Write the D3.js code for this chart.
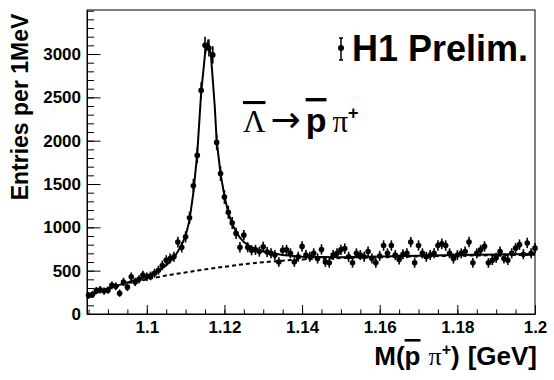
<!DOCTYPE html>
<html>
<head>
<meta charset="utf-8">
<script src="https://cdn.jsdelivr.net/npm/d3@7/dist/d3.min.js"></script>
<style>
  body { margin: 0; background: #fff; }
  text { font-family: "Liberation Sans", Arial, sans-serif; font-weight: bold; fill: #000; }
  .serif { font-family: "Liberation Serif", "Times New Roman", serif; font-weight: normal; }
</style>
</head>
<body>
<div id="chart"></div>
<script>
// histogram: 1 MeV bins, first bin centre 1.085 GeV
const firstBin = 1.085;
const binWidth = 0.001;
const entries = [
  215, 225, 270, 280, 265, 275, 330, 320, 240, 370,
  310, 430, 370, 400, 450, 430, 440, 470, 505, 560,
  620, 640, 660, 830, 770, 890, 1110, 1480, 1830, 2580,
  3100, 3070, 2990, 1980, 1620, 1350, 1175, 1050, 930, 770,
  910, 770, 735, 740, 720, 775, 715, 700, 680, 600,
  735, 740, 700, 600, 660, 780, 680, 660, 700, 640,
  745, 600, 590, 680, 700, 740, 755, 660, 590, 700,
  680, 660, 720, 640, 590, 670, 790, 700, 790, 680,
  630, 690, 700, 830, 590, 790, 700, 660, 680, 700,
  790, 810, 790, 700, 640, 680, 700, 720, 830, 590,
  700, 740, 780, 590, 620, 650, 720, 640, 620, 700,
  760, 800, 690, 820, 700, 760
];
const errors = [
  40, 40, 42, 42, 42, 42, 45, 45, 42, 48,
  45, 50, 48, 48, 50, 50, 50, 52, 52, 55,
  58, 58, 58, 62, 60, 65, 70, 80, 90, 95,
  100, 100, 100, 90, 85, 80, 75, 70, 65, 60,
  60, 58, 58, 58, 58, 60, 58, 58, 58, 56,
  58, 58, 58, 56, 58, 60, 58, 58, 58, 58,
  60, 56, 56, 58, 58, 60, 60, 58, 56, 58,
  58, 58, 58, 58, 56, 58, 60, 58, 60, 58,
  58, 58, 58, 60, 56, 60, 58, 58, 58, 58,
  60, 60, 60, 58, 58, 58, 58, 58, 60, 56,
  58, 58, 60, 56, 56, 58, 58, 58, 56, 58,
  58, 60, 58, 60, 58, 58
];

// fitted curves
const fitMass = [1.085, 1.09, 1.095, 1.1, 1.103, 1.105, 1.107, 1.108, 1.109, 1.11, 1.111, 1.112, 1.113, 1.114,
  1.115, 1.1157, 1.1165, 1.1175, 1.118, 1.119, 1.12, 1.121, 1.122, 1.123, 1.124, 1.125, 1.127, 1.13,
  1.135, 1.14, 1.15, 1.16, 1.17, 1.18, 1.19, 1.2];
const fitEntries = [210, 295, 365, 435, 500, 560, 650, 720, 800, 900, 1080, 1400, 1850, 2550,
  3000, 3130, 3000, 2400, 2000, 1620, 1360, 1170, 1040, 950, 880, 830, 770, 720,
  680, 660, 655, 663, 672, 680, 687, 692];
const bgMass = [1.085, 1.09, 1.095, 1.1, 1.105, 1.11, 1.115, 1.12, 1.125, 1.13, 1.135, 1.14, 1.15, 1.16, 1.17, 1.18, 1.19, 1.2];
const bgEntries = [210, 295, 355, 400, 445, 480, 515, 545, 575, 598, 615, 630, 645, 655, 665, 672, 678, 683];

const xMajor = [1.1, 1.12, 1.14, 1.16, 1.18, 1.2];
const yMajor = [0, 500, 1000, 1500, 2000, 2500, 3000];

const width = 554, height = 380;
const margin = { top: 10, right: 19, bottom: 66, left: 87 };
const iw = width - margin.left - margin.right;
const ih = height - margin.top - margin.bottom;

const svg = d3.select("#chart").append("svg")
    .attr("width", width)
    .attr("height", height);

const g = svg.append("g")
    .attr("transform", `translate(${margin.left},${margin.top})`);

const x = d3.scaleLinear().domain([1.0846, 1.2]).range([0, iw]);
const y = d3.scaleLinear().domain([0, 3508]).range([ih, 0]);

// frame
g.append("rect")
    .attr("width", iw).attr("height", ih)
    .attr("fill", "none").attr("stroke", "#000").attr("stroke-width", 1);

// minor ticks
g.append("g")
    .attr("transform", `translate(0,${ih})`)
    .call(d3.axisBottom(x).tickValues(d3.range(1.085, 1.2001, 0.005)).tickSize(-4.5).tickFormat(""))
    .call(a => a.select(".domain").remove());
g.append("g")
    .call(d3.axisLeft(y).tickValues(d3.range(0, 3501, 100)).tickSize(-7).tickFormat(""))
    .call(a => a.select(".domain").remove());

// major ticks + labels
const xAxis = g.append("g")
    .attr("transform", `translate(0,${ih})`)
    .call(d3.axisBottom(x).tickValues(xMajor).tickSize(-9).tickSizeOuter(0).tickPadding(7)
        .tickFormat(d3.format("~g")));
const yAxis = g.append("g")
    .call(d3.axisLeft(y).tickValues(yMajor).tickSize(-13.5).tickSizeOuter(0).tickPadding(6)
        .tickFormat(d3.format("d")));
[xAxis, yAxis].forEach(a => {
    a.select(".domain").attr("stroke", "#000");
    a.selectAll("text").style("font-size", "17px").attr("fill", "#000");
});
g.selectAll(".tick line").attr("stroke", "#000");

// background fit (dashed) and total fit
const line = d3.line().x(d => x(d[0])).y(d => y(d[1]));
g.append("path")
    .attr("d", line(d3.zip(bgMass, bgEntries)))
    .attr("fill", "none").attr("stroke", "#000").attr("stroke-width", 2)
    .attr("stroke-dasharray", "4,3");
g.append("path")
    .attr("d", line(d3.zip(fitMass, fitEntries)))
    .attr("fill", "none").attr("stroke", "#000").attr("stroke-width", 2);

// data points
const pts = g.append("g").selectAll("g")
    .data(entries.map((v, i) => ({ m: firstBin + i * binWidth, v: v, e: errors[i] })))
    .join("g");
pts.append("line")
    .attr("x1", d => x(d.m)).attr("x2", d => x(d.m))
    .attr("y1", d => y(d.v - d.e)).attr("y2", d => y(d.v + d.e))
    .attr("stroke", "#000").attr("stroke-width", 1.6);
pts.append("circle")
    .attr("cx", d => x(d.m)).attr("cy", d => y(d.v)).attr("r", 2.8)
    .attr("fill", "#000");

// legend
const lg = svg.append("g").attr("transform", "translate(341,48)");
lg.append("line").attr("y1", -10).attr("y2", 12).attr("stroke", "#000").attr("stroke-width", 1.5);
lg.append("line").attr("x1", -2).attr("x2", 2).attr("y1", -10).attr("y2", -10).attr("stroke", "#000").attr("stroke-width", 1.5);
lg.append("line").attr("x1", -2).attr("x2", 2).attr("y1", 12).attr("y2", 12).attr("stroke", "#000").attr("stroke-width", 1.5);
lg.append("circle").attr("r", 3).attr("fill", "#000");
svg.append("text")
    .attr("x", 352).attr("y", 61)
    .style("font-size", "36px")
    .text("H1 Prelim.");

// decay label
const decay = svg.append("text").attr("x", 243).attr("y", 132).style("font-size", "31px");
decay.append("tspan").attr("class", "serif").style("text-decoration", "overline").text("Λ");
decay.append("tspan").attr("dx", 5).style("font-family", "DejaVu Sans").style("font-weight", "normal")
    .style("font-size", "36px").text("→");
decay.append("tspan").attr("dx", 5).style("text-decoration", "overline").style("font-size", "34px").text("p");
decay.append("tspan").attr("class", "serif").attr("dx", 6).text("π");
decay.append("tspan").attr("dy", -13).style("font-size", "18px").text("+");

// axis titles
svg.append("text")
    .attr("transform", "translate(28,107) rotate(-90)")
    .attr("text-anchor", "middle")
    .style("font-size", "23px")
    .text("Entries per 1MeV");

const xt = svg.append("text")
    .attr("x", 537).attr("y", 365)
    .attr("text-anchor", "end")
    .style("font-size", "26px");
xt.append("tspan").text("M(");
xt.append("tspan").style("text-decoration", "overline").text("p");
xt.append("tspan").attr("class", "serif").attr("dx", 8).text("π");
xt.append("tspan").attr("dy", -10).style("font-size", "16px").text("+");
xt.append("tspan").attr("dy", 10).text(")");
xt.append("tspan").attr("dx", 8).text("[GeV]");
</script>
</body>
</html>
